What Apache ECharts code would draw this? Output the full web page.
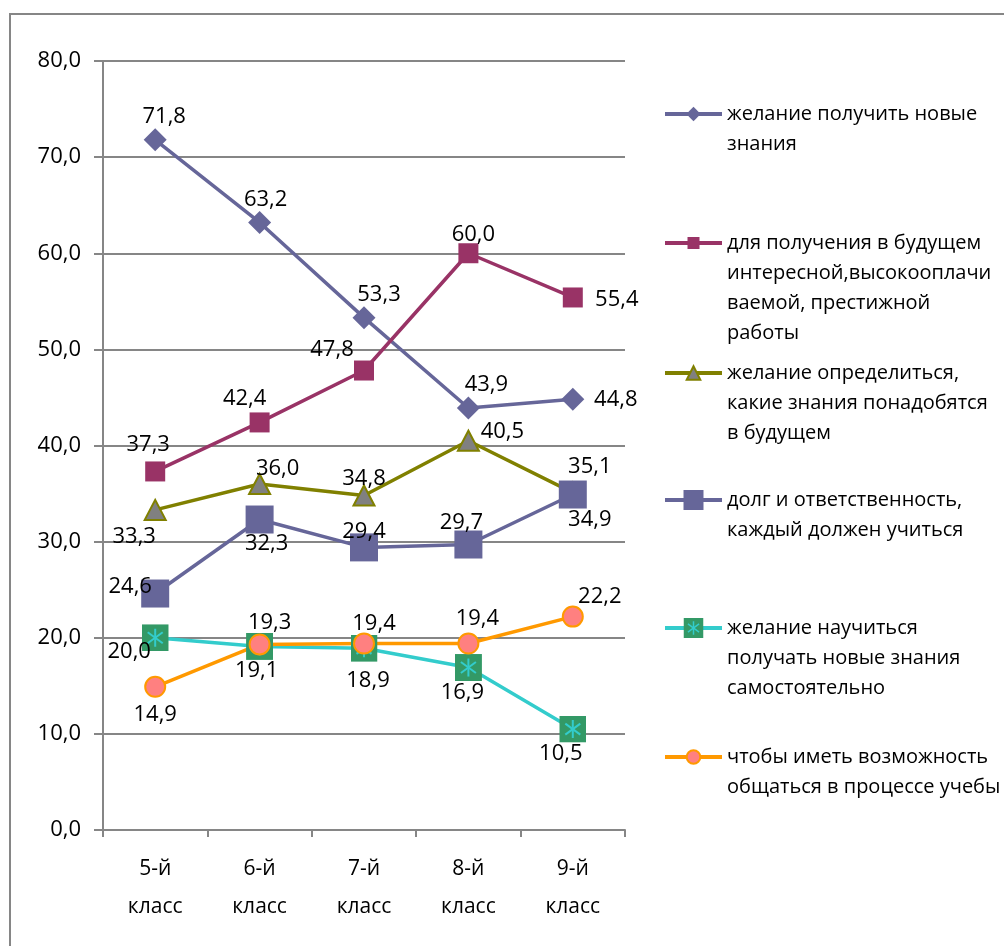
<!DOCTYPE html>
<html>
<head>
<meta charset="utf-8">
<script src="https://cdn.jsdelivr.net/npm/echarts@6/dist/echarts.min.js"></script>
<style>
  html, body { margin: 0; padding: 0; background: #fff; }
  #chart { width: 1004px; height: 946px; }
</style>
</head>
<body>
<div id="chart"></div>
<script>
// Categories (school grades)
const categories = ['5-й\nкласс', '6-й\nкласс', '7-й\nкласс', '8-й\nкласс', '9-й\nкласс'];
const yTicks = { min: 0, max: 80, step: 10 };

// Series names, as shown in the legend (line breaks included)
const seriesNames = [
  'желание получить новые\nзнания',
  'для получения в будущем\nинтересной,высокооплачи\nваемой, престижной\nработы',
  'желание определиться,\nкакие знания понадобятся\nв будущем',
  'долг и ответственность,\nкаждый должен учиться',
  'желание научиться\nполучать новые знания\nсамостоятельно',
  'чтобы иметь возможность\nобщаться в процессе учебы'
];

// Values, % by grade
const knowledge = [71.8, 63.2, 53.3, 43.9, 44.8];
const career    = [37.3, 42.4, 47.8, 60.0, 55.4];
const decide    = [33.3, 36.0, 34.8, 40.5, 35.1];
const duty      = [24.6, 32.3, 29.4, 29.7, 34.9];
const selfLearn = [20.0, 19.1, 18.9, 16.9, 10.5];
const socialize = [14.9, 19.3, 19.4, 19.4, 22.2];

// Label placement around each marker: [dx, dy] in px
const labelOffsets = [
  [[9, -23], [6, -23], [15, -23], [18, -23], [43, 0]],
  [[-7, -27], [-15, -24], [-32, -21], [5, -19], [44, 2]],
  [[-21, 27], [18, -15], [0, -17], [34, -9], [17, -26]],
  [[-25, -7], [7, 24], [0, -16], [-7, -22], [17, 25]],
  [[-26, 14], [-3, 24], [4, 32], [-6, 25], [-12, 25]],
  [[0, 28], [10, -22], [10, -20], [9, -25], [27, -20]]
];

const FONT = 'Open Sans';
const GRAY = '#868686';

// Green square marker with a turquoise asterisk
const starSvg = "<svg xmlns='http://www.w3.org/2000/svg' width='54' height='54' viewBox='0 0 54 54'>" +
  "<rect width='54' height='54' fill='#339966'/>" +
  "<g stroke='#33CCCC' stroke-width='4' stroke-linecap='butt'>" +
  "<line x1='27' y1='9' x2='27' y2='45'/>" +
  "<line x1='12' y1='16' x2='42' y2='38'/>" +
  "<line x1='12' y1='38' x2='42' y2='16'/></g></svg>";
const starSymbol = 'image://data:image/svg+xml;charset=utf-8,' + encodeURIComponent(starSvg);

const fmt = v => Number(v).toFixed(1).replace('.', ',');

const styles = [
  { color: '#666699', symbol: 'diamond', size: 23, item: { color: '#666699' } },
  { color: '#993366', symbol: 'rect', size: 20, item: { color: '#993366' } },
  { color: '#808000', symbol: 'triangle', size: [21, 20], item: { color: '#808080', borderColor: '#808000', borderWidth: 2 } },
  { color: '#666699', symbol: 'rect', size: 28, item: { color: '#666699' } },
  { color: '#33CCCC', symbol: starSymbol, size: 27, item: { color: '#339966' } },
  { color: '#FF9900', symbol: 'circle', size: 20, item: { color: '#FF8080', borderColor: '#FF9900', borderWidth: 2 } }
];

const allValues = [knowledge, career, decide, duty, selfLearn, socialize];

const series = allValues.map((vals, si) => ({
  name: seriesNames[si],
  type: 'line',
  symbol: styles[si].symbol,
  symbolSize: styles[si].size,
  showAllSymbol: true,
  lineStyle: { color: styles[si].color, width: 3.5 },
  itemStyle: Object.assign({ opacity: 1 }, styles[si].item),
  label: {
    show: true,
    position: 'inside',
    color: '#000',
    fontFamily: FONT,
    fontSize: 22,
    formatter: p => fmt(p.value)
  },
  emphasis: { disabled: true },
  animation: false,
  data: vals.map((v, i) => ({ value: v, label: { offset: labelOffsets[si][i] } }))
}));

// One legend block per series; leading blank lines keep the first text line level with the icon
const legendLine = 30;
const legendIconCenters = [114, 243, 373, 500, 628, 757];
const legendItemHeights = [18, 15, 17, 25, 25, 17];
const legends = seriesNames.map((name, i) => {
  const n = name.split('\n').length;
  return {
    data: [name],
    left: 663,
    top: legendIconCenters[i] - (2 * n - 1) * legendLine / 2,
    orient: 'vertical',
    padding: 0,
    itemWidth: 57,
    itemHeight: legendItemHeights[i],
    itemGap: 0,
    selectedMode: false,
    lineStyle: { width: 4 },
    formatter: nm => '\n'.repeat(n - 1) + nm,
    textStyle: {
      color: '#000',
      fontFamily: FONT,
      fontSize: 20,
      lineHeight: legendLine
    }
  };
});

const chart = echarts.init(document.getElementById('chart'), null, { renderer: 'canvas' });
chart.setOption({
  backgroundColor: '#fff',
  animation: false,
  graphic: [{
    type: 'rect',
    silent: true,
    shape: { x: 10, y: 14, width: 1100, height: 1100 },
    style: { fill: 'none', stroke: GRAY, lineWidth: 2 },
    z: -1
  }],
  grid: { left: 103, right: 379, top: 61, bottom: 116, containLabel: false },
  legend: legends,
  xAxis: {
    type: 'category',
    data: categories,
    boundaryGap: true,
    axisLine: { lineStyle: { color: GRAY, width: 2 } },
    axisTick: { show: true, length: 7, lineStyle: { color: GRAY, width: 2 } },
    axisLabel: {
      color: '#000',
      fontFamily: FONT,
      fontSize: 21,
      lineHeight: 38,
      margin: 20,
      interval: 0
    },
    splitLine: { show: false }
  },
  yAxis: {
    type: 'value',
    min: yTicks.min,
    max: yTicks.max,
    interval: yTicks.step,
    axisLine: { show: true, lineStyle: { color: GRAY, width: 2 } },
    axisTick: { show: true, length: 9, lineStyle: { color: GRAY, width: 2 } },
    axisLabel: {
      color: '#000',
      fontFamily: FONT,
      fontSize: 22,
      margin: 22,
      formatter: v => fmt(v)
    },
    splitLine: { show: true, lineStyle: { color: GRAY, width: 2 } }
  },
  series: series
});
</script>
</body>
</html>
